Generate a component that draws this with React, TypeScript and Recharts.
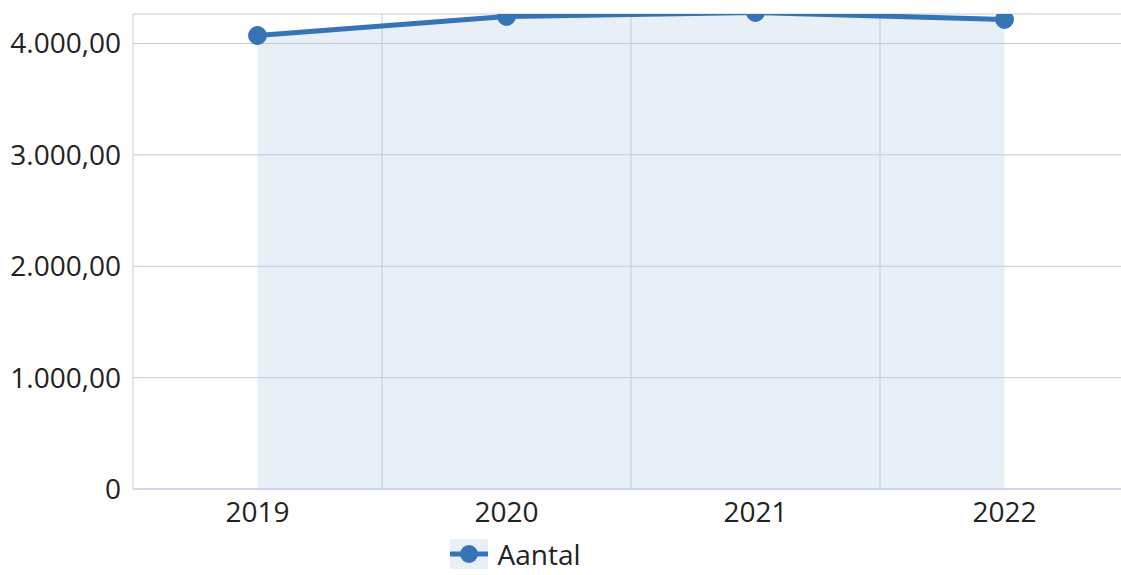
import { ComposedChart, Area, Line, XAxis, YAxis, CartesianGrid, Legend } from 'recharts';

const years = ['2019', '2020', '2021', '2022'];
const aantal = [4072, 4243, 4279, 4216];
const yTicks = [0, 1000, 2000, 3000, 4000];
const yMax = 4265;

const LINE = '#3774b6';
const FILL = '#e8eff7';
const GRID = '#c0ccdc';
const FONT = '"Open Sans", "Noto Sans", sans-serif';
const FONT_SIZE = 28;

const data = years.map((year, i) => ({ year, aantal: aantal[i] }));

const nlFormat = new Intl.NumberFormat('nl-NL', { minimumFractionDigits: 2, maximumFractionDigits: 2 });
const formatTick = (v: number) => (v === 0 ? '0' : nlFormat.format(v));

const LegendContent = () => (
    <div
        style={{
            display: 'flex',
            justifyContent: 'center',
            alignItems: 'center',
            fontFamily: FONT,
            fontSize: FONT_SIZE,
            lineHeight: '30px',
            height: 30,
            color: '#222',
            paddingRight: 98,
        }}
    >
        <svg width={38} height={30} style={{ marginRight: 9 }}>
            <rect x={0} y={0} width={38} height={30} fill={FILL} />
            <line x1={0} y1={15} x2={38} y2={15} stroke={LINE} strokeWidth={5} />
            <circle cx={19} cy={15} r={9} fill={LINE} />
        </svg>
        <span>Aantal</span>
    </div>
);

export default function App() {
    return (
        <div style={{ width: 1121, height: 575, overflow: 'hidden' }}>
            <style>{`body { margin: 0; }`}</style>
            <ComposedChart width={1121} height={575} data={data} margin={{ top: 14, right: -8, left: 0, bottom: 0 }}>
                <Area
                    type="linear"
                    dataKey="aantal"
                    stroke="none"
                    fill={FILL}
                    fillOpacity={1}
                    dot={false}
                    activeDot={false}
                    legendType="none"
                    isAnimationActive={false}
                />
                <CartesianGrid
                    stroke={GRID}
                    strokeWidth={1}
                    zIndex={200}
                    verticalCoordinatesGenerator={({ offset }: any) =>
                        years.slice(1).map((_, i) => offset.left + ((i + 1) * offset.width) / years.length)
                    }
                />
                <XAxis
                    dataKey="year"
                    scale="band"
                    height={50}
                    axisLine={{ stroke: GRID }}
                    tickLine={false}
                    tickSize={0}
                    tickMargin={13}
                    tick={{ fill: '#222', fontSize: FONT_SIZE, fontFamily: FONT }}
                />
                <YAxis
                    width={133}
                    domain={[0, yMax]}
                    allowDataOverflow
                    ticks={yTicks}
                    tickFormatter={formatTick}
                    axisLine={{ stroke: GRID }}
                    tickLine={false}
                    tickSize={0}
                    tickMargin={12}
                    tick={{ fill: '#222', fontSize: FONT_SIZE, fontFamily: FONT }}
                />
                <Legend verticalAlign="bottom" height={36} wrapperStyle={{ bottom: 0 }} content={<LegendContent />} />
                <Line
                    type="linear"
                    dataKey="aantal"
                    stroke={LINE}
                    strokeWidth={5}
                    dot={{ r: 9, fill: LINE, stroke: LINE, strokeWidth: 1 }}
                    activeDot={false}
                    isAnimationActive={false}
                />
            </ComposedChart>
        </div>
    );
}
